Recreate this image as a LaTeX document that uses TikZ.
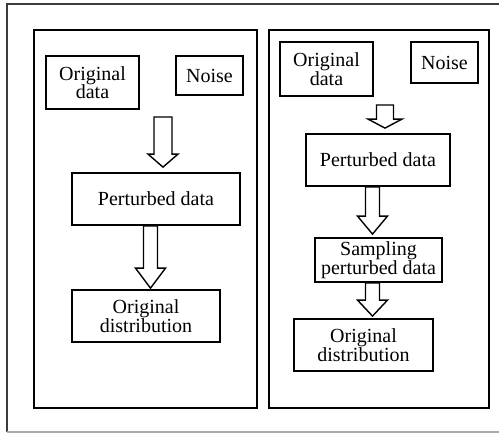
\documentclass[tikz,border=0pt]{standalone}
\usepackage{fontspec}
\setmainfont{Liberation Serif}
\usepackage{tikz}
\usetikzlibrary{calc}
\definecolor{framegray}{RGB}{60, 60, 60}
\definecolor{edgegray}{RGB}{170, 170, 170}
\tikzstyle{flowbox} = [draw, line width=1.8pt, inner sep=0pt, align=center, font=\fontsize{20}{18.5}\selectfont]
\tikzstyle{panel} = [draw, line width=1.8pt]
\tikzstyle{blockarrow} = [line width=1.4pt, fill=white, line join=miter]
% hollow arrow: start, tip, half shaft, half head, head length
\newcommand{\blockarrow}[5]{%
  \draw[blockarrow] let \p1=(#1), \p2=(#2) in
    (\x1-#3pt,\y1) -- (\x1-#3pt,\y2+#5pt) -- (\x1-#4pt,\y2+#5pt) -- (\x1,\y2)
    -- (\x1+#4pt,\y2+#5pt) -- (\x1+#3pt,\y2+#5pt) -- (\x1+#3pt,\y1) -- cycle;}

\begin{document}
\begin{tikzpicture}[x=1pt, y=-1pt]
    \useasboundingbox (0,0) rectangle (499,433);
    % Outer frame (cut off on the right)
    \draw[framegray, line width=1.5pt] (499,4) -- (7,4) -- (7,432);
    \draw[edgegray, line width=1.2pt] (7,432) -- (499,432);

    % Left panel
    \node[panel, minimum width=223pt, minimum height=378pt, inner sep=0pt] (lpanel) at (145.5,219) {};
    \node[flowbox, minimum width=93pt, minimum height=53pt] (lorig) at (92.5,82.5) {Original\\data};
    \node[flowbox, minimum width=67pt, minimum height=39pt] (lnoise) at (209.5,75.5) {Noise};
    \node[flowbox, minimum width=168pt, minimum height=52pt] (lpert) at (156,199) {Perturbed data};
    \node[flowbox, minimum width=148pt, minimum height=52pt] (ldist) at (146,316) {Original\\distribution};
    \coordinate (lin) at (163,117);
    \blockarrow{lin}{$(lin |- lpert.north)+(0,-5)$}{9}{15}{13}
    \blockarrow{$(lpert.south)+(-5.5,0)$}{$(ldist.north)+(0,-1)$}{7}{15}{20}

    % Right panel
    \node[panel, minimum width=220pt, minimum height=378pt, inner sep=0pt] (rpanel) at (379,219) {};
    \node[flowbox, minimum width=93pt, minimum height=54pt] (rorig) at (326.5,69) {Original\\data};
    \node[flowbox, minimum width=67pt, minimum height=41pt] (rnoise) at (444.5,62.5) {Noise};
    \node[flowbox, minimum width=144pt, minimum height=52pt] (rpert) at (378,160) {Perturbed data};
    \node[flowbox, minimum width=127pt, minimum height=44pt] (rsamp) at (378.5,260) {Sampling\\perturbed data};
    \node[flowbox, minimum width=139pt, minimum height=52pt] (rdist) at (363.5,345) {Original\\distribution};
    \coordinate (rin) at (385,105);
    \blockarrow{rin}{$(rin |- rpert.north)+(0,-5)$}{8.5}{17}{9}
    \blockarrow{$(rpert.south)+(-5.5,0)$}{$(rsamp.north)+(0,-3)$}{7}{15}{18}
    \blockarrow{$(rsamp.south)+(-6,0)$}{$(rdist.north)+(0,-2)$}{7}{15}{16}
\end{tikzpicture}
\end{document}
